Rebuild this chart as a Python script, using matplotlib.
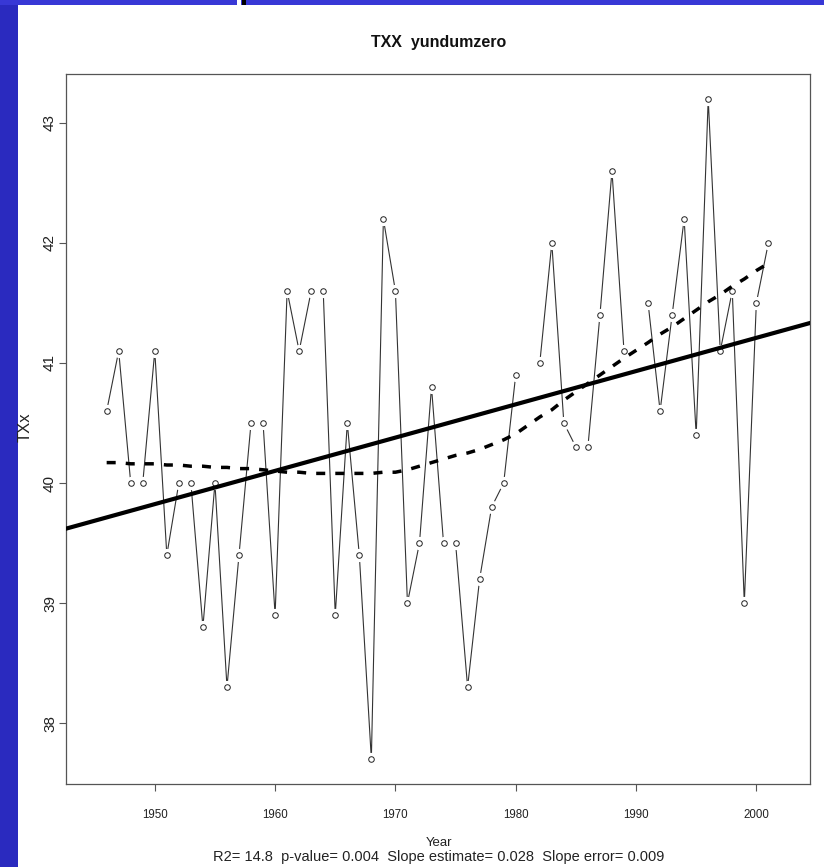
import numpy as np
import matplotlib
matplotlib.use("Agg")
import matplotlib.pyplot as plt
from matplotlib.patches import Rectangle

# ---- data ----
years = list(range(1946, 2002))
txx = [40.6, 41.1, 40.0, 40.0, 41.1, 39.4, 40.0, 40.0, 38.8, 40.0,
       38.3, 39.4, 40.5, 40.5, 38.9, 41.6, 41.1, 41.6, 41.6, 38.9,
       40.5, 39.4, 37.7, 42.2, 41.6, 39.0, 39.5, 40.8, 39.5, 39.5,
       38.3, 39.2, 39.8, 40.0, 40.9, np.nan, 41.0, 42.0, 40.5, 40.3,
       40.3, 41.4, 42.6, 41.1, np.nan, 41.5, 40.6, 41.4, 42.2, 40.4,
       43.2, 41.1, 41.6, 39.0, 41.5, 42.0]
lowess_vals = [40.17, 40.17, 40.16, 40.16, 40.16, 40.15, 40.15, 40.14, 40.14, 40.13,
               40.13, 40.12, 40.12, 40.11, 40.10, 40.09, 40.09, 40.08, 40.08, 40.08,
               40.08, 40.08, 40.08, 40.09, 40.09, 40.11, 40.14, 40.17, 40.20, 40.23,
               40.25, 40.28, 40.32, 40.36, 40.41, np.nan, 40.55, 40.61, 40.69, 40.76,
               40.83, 40.90, 40.97, 41.04, np.nan, 41.17, 41.24, 41.30, 41.37, 41.44,
               41.51, 41.57, 41.64, 41.70, 41.77, 41.83]
x_ticks = [1950, 1960, 1970, 1980, 1990, 2000]
y_ticks = [38, 39, 40, 41, 42, 43]
title = "TXX  yundumzero"
xlabel = "Year"
ylabel = "TXx"
stats_line = "R2= 14.8  p-value= 0.004  Slope estimate= 0.028  Slope error= 0.009"

plt.rcParams['font.family'] = ['Liberation Sans', 'DejaVu Sans']

W, H = 824, 867
fig = plt.figure(figsize=(W / 100, H / 100), dpi=100)
fig.patch.set_facecolor('white')

# slide background bits (blue bands)
fig.patches.append(Rectangle((0, 0), 18 / W, 1, transform=fig.transFigure,
                             facecolor='#2a2abf', edgecolor='none', zorder=0))
fig.patches.append(Rectangle((0, 1 - 5 / H), 1, 5 / H, transform=fig.transFigure,
                             facecolor='#3838d6', edgecolor='none', zorder=0))
fig.patches.append(Rectangle((237 / W, 1 - 5 / H), 4 / W, 5 / H, transform=fig.transFigure,
                             facecolor='white', edgecolor='none', zorder=1))
fig.patches.append(Rectangle((242 / W, 1 - 5 / H), 4 / W, 5 / H, transform=fig.transFigure,
                             facecolor='black', edgecolor='none', zorder=1))

left, right, top, bottom = 66, 810, 74, 784
ax = fig.add_axes([left / W, 1 - bottom / H, (right - left) / W, (bottom - top) / H])
ax.set_xlim(1942.62, 2004.46)
ax.set_ylim(37.492, 43.408)

yrs = np.array(years, dtype=float)
vals = np.array(txx, dtype=float)

# data line with R type="b" style gaps
ax.plot(yrs, vals, color='#333333', lw=0.8, zorder=1)
ax.plot(yrs, vals, ls='none', marker='o', ms=8.5, mfc='white', mec='white', zorder=2)
ax.plot(yrs, vals, ls='none', marker='o', ms=4.0, mfc='none', mec='#222222', mew=0.7, zorder=3)

# linear trend (abline)
ok = ~np.isnan(vals)
slope, intercept = np.polyfit(yrs[ok], vals[ok], 1)
ax.axline((1960, intercept + slope * 1960), slope=slope, color='black', lw=3.0, zorder=4)

# lowess smooth
ax.plot(yrs[ok], np.array(lowess_vals)[ok], color='black', lw=2.5, ls=(0, (2.6, 2.9)), zorder=4)

for s in ax.spines.values():
    s.set_color('#555555')
    s.set_linewidth(0.9)

ax.set_xticks(x_ticks)
ax.set_yticks(y_ticks)
ax.tick_params(axis='both', direction='out', length=5, width=0.8, color='#555555',
               labelcolor='#222222')
ax.tick_params(axis='x', pad=13, labelsize=8.3)
ax.tick_params(axis='y', pad=1.5, labelsize=11)
for lab in ax.get_yticklabels():
    lab.set_rotation(90)
    lab.set_va('center')

fig.text(439 / W, 1 - 43 / H, title, ha='center', va='center', fontsize=11.5,
         fontweight='bold', color='#111111')
fig.text(439 / W, 1 - 843 / H, xlabel, ha='center', va='center', fontsize=9.5, color='#222222')
fig.text(439 / W, 1 - 857 / H, stats_line, ha='center', va='center', fontsize=10.5, color='#222222')
fig.text(25 / W, 1 - 427 / H, ylabel, ha='center', va='center', rotation=90, fontsize=12,
         color='#222222')

fig.savefig('out.png', dpi=100, facecolor='white')
